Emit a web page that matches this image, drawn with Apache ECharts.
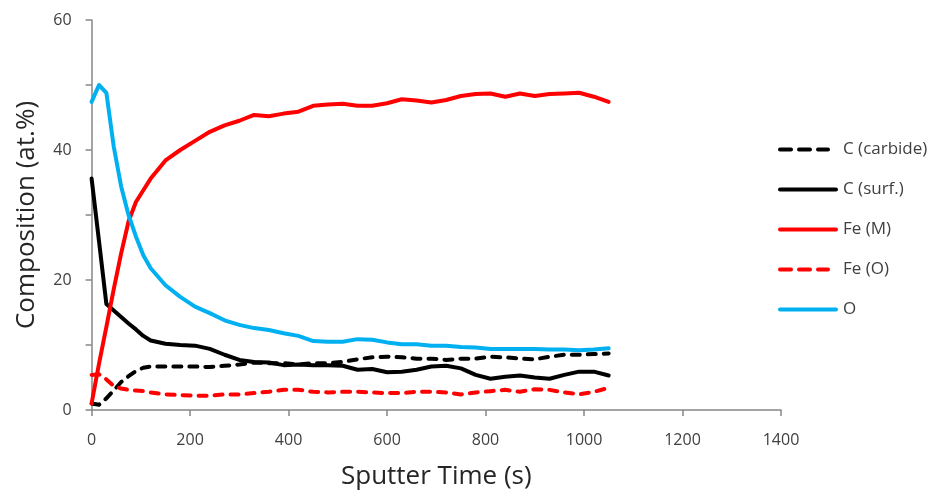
<!DOCTYPE html>
<html>
<head>
<meta charset="utf-8">
<title>Depth profile composition</title>
<script src="https://cdn.jsdelivr.net/npm/echarts@6/dist/echarts.min.js"></script>
<style>
  html, body { margin: 0; padding: 0; background: #ffffff; }
  #chart { width: 936px; height: 498px; }
</style>
</head>
<body>
<div id="chart"></div>
<script>
// Sputter times (s)
var times = [0, 15, 30, 45, 60, 75, 90, 105, 120, 150, 180, 210, 240, 270, 300, 330, 360, 390, 420, 450,
  480, 510, 540, 570, 600, 630, 660, 690, 720, 750, 780, 810, 840, 870, 900, 930, 960, 990, 1020, 1050];

// Composition (at.%) per species
var cCarbide = [1.0, 0.8, 1.8, 3.0, 4.3, 5.2, 6.0, 6.5, 6.7, 6.7, 6.7, 6.7, 6.6, 6.8, 7.0, 7.3, 7.2, 7.2, 7.0, 7.2,
  7.2, 7.4, 7.8, 8.1, 8.2, 8.1, 7.9, 7.9, 7.7, 7.9, 7.9, 8.2, 8.1, 7.9, 7.8, 8.2, 8.5, 8.5, 8.6, 8.7];
var cSurf = [35.6, 26.0, 16.3, 15.3, 14.3, 13.3, 12.4, 11.4, 10.7, 10.2, 10.0, 9.9, 9.4, 8.5, 7.7, 7.4, 7.3, 6.9, 7.0, 6.9,
  6.9, 6.8, 6.2, 6.3, 5.8, 5.9, 6.2, 6.7, 6.8, 6.4, 5.4, 4.8, 5.1, 5.3, 5.0, 4.8, 5.4, 5.9, 5.9, 5.3];
var feM = [1.0, 7.1, 12.8, 18.6, 24.1, 29.0, 32.0, 33.8, 35.6, 38.4, 40.0, 41.4, 42.8, 43.8, 44.5, 45.4, 45.2, 45.6, 45.9, 46.8,
  47.0, 47.1, 46.8, 46.8, 47.2, 47.8, 47.6, 47.3, 47.7, 48.3, 48.6, 48.7, 48.2, 48.7, 48.3, 48.6, 48.7, 48.8, 48.2, 47.4];
var feO = [5.4, 5.5, 4.7, 3.7, 3.3, 3.1, 3.0, 2.9, 2.7, 2.4, 2.3, 2.2, 2.2, 2.4, 2.4, 2.6, 2.8, 3.1, 3.1, 2.8,
  2.7, 2.8, 2.8, 2.7, 2.6, 2.6, 2.8, 2.8, 2.7, 2.4, 2.7, 2.9, 3.1, 2.8, 3.2, 3.1, 2.7, 2.4, 2.8, 3.4];
var oxy = [47.4, 50.0, 48.8, 40.5, 34.4, 30.0, 26.7, 23.8, 21.8, 19.2, 17.4, 15.9, 14.9, 13.8, 13.1, 12.6, 12.3, 11.8, 11.4, 10.6,
  10.5, 10.5, 10.9, 10.8, 10.4, 10.1, 10.1, 9.9, 9.9, 9.7, 9.6, 9.4, 9.4, 9.4, 9.4, 9.3, 9.3, 9.2, 9.3, 9.5];

var seriesNames = ['C (carbide)', 'C (surf.)', 'Fe (M)', 'Fe (O)', 'O'];

function pairs(values) {
  return times.map(function (t, i) { return [t, values[i]]; });
}

var FONT = '"Open Sans", "DejaVu Sans", sans-serif';
var AXIS_GREY = '#868686';

// Legend swatches in a 60x14 box: a 4px stroke across the middle.
// The bare move-to points pin the box corners so the swatch is not stretched.
var ICON_SOLID = 'path://M0 0M60 14M2 5H58A2 2 0 0 1 58 9H2A2 2 0 0 1 2 5Z';
var ICON_DASH = 'path://M0 0M60 14' +
  'M2 5H13A2 2 0 0 1 13 9H2A2 2 0 0 1 2 5Z' +
  'M21 5H32A2 2 0 0 1 32 9H21A2 2 0 0 1 21 5Z' +
  'M40 5H50A2 2 0 0 1 50 9H40A2 2 0 0 1 40 5Z';

function lineSeries(name, values, color, dashed) {
  return {
    name: name,
    type: 'line',
    data: pairs(values),
    symbol: 'none',
    smooth: false,
    animation: false,
    lineStyle: {
      color: color,
      width: 4,
      type: dashed ? [8, 8] : 'solid',
      cap: 'round',
      join: 'round'
    },
    itemStyle: { color: color }
  };
}

var chart = echarts.init(document.getElementById('chart'), null, { renderer: 'canvas' });

chart.setOption({
  backgroundColor: '#ffffff',
  animation: false,
  textStyle: { fontFamily: FONT },
  grid: { left: 91.6, right: 155, top: 20, bottom: 88, containLabel: false },
  legend: {
    orient: 'vertical',
    left: 773,
    top: 136,
    itemWidth: 60,
    itemHeight: 14,
    itemGap: 23,
    data: [
      { name: seriesNames[0], icon: ICON_DASH },
      { name: seriesNames[1], icon: ICON_SOLID },
      { name: seriesNames[2], icon: ICON_SOLID },
      { name: seriesNames[3], icon: ICON_DASH },
      { name: seriesNames[4], icon: ICON_SOLID }
    ],
    textStyle: { fontFamily: FONT, fontSize: 17, color: '#404040' }
  },
  xAxis: {
    type: 'value',
    min: 0,
    max: 1400,
    interval: 200,
    name: 'Sputter Time (s)',
    nameLocation: 'middle',
    nameGap: 54,
    nameTextStyle: { fontFamily: FONT, fontSize: 26, color: '#262626' },
    axisLine: { show: true, lineStyle: { color: AXIS_GREY, width: 1.5 } },
    axisTick: { show: true, inside: false, length: 6, lineStyle: { color: AXIS_GREY, width: 1.5 } },
    axisLabel: {
      margin: 22,
      fontFamily: FONT,
      fontSize: 16,
      color: '#404040',
      formatter: function (v) { return String(v); }
    },
    splitLine: { show: false }
  },
  yAxis: {
    type: 'value',
    min: 0,
    max: 60,
    interval: 10,
    name: 'Composition (at.%)',
    nameLocation: 'middle',
    nameRotate: 90,
    nameGap: 52,
    nameTextStyle: { fontFamily: FONT, fontSize: 26, color: '#262626' },
    axisLine: { show: true, lineStyle: { color: AXIS_GREY, width: 1.5 } },
    axisTick: { show: true, inside: false, length: 6, lineStyle: { color: AXIS_GREY, width: 1.5 } },
    axisLabel: {
      margin: 20,
      fontFamily: FONT,
      fontSize: 16,
      color: '#404040',
      formatter: function (v) { return v % 20 === 0 ? String(v) : ''; }
    },
    splitLine: { show: false }
  },
  series: [
    lineSeries(seriesNames[0], cCarbide, '#000000', true),
    lineSeries(seriesNames[1], cSurf, '#000000', false),
    lineSeries(seriesNames[2], feM, '#ff0000', false),
    lineSeries(seriesNames[3], feO, '#ff0000', true),
    lineSeries(seriesNames[4], oxy, '#00b0f0', false)
  ]
});
</script>
</body>
</html>
